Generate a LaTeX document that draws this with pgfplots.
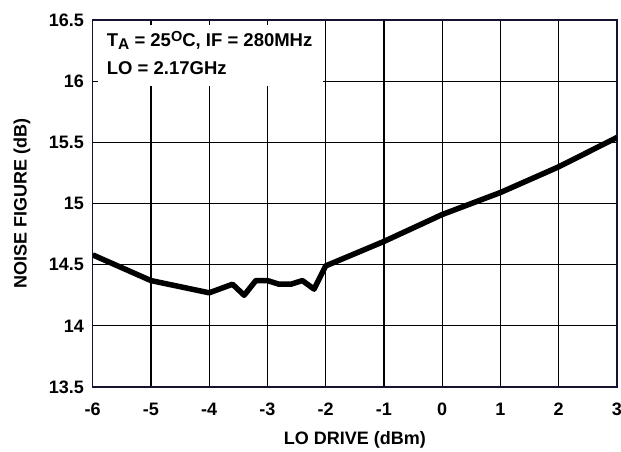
\documentclass[border=0pt]{standalone}
\usepackage{fontspec}
\setmainfont{Liberation Sans}
\usepackage{pgfplots}
\pgfplotsset{compat=1.18}
\definecolor{framecol}{RGB}{20,20,50}
\newcommand{\annfont}{\fontsize{18.5}{22}\selectfont\bfseries}
\pgfplotsset{common/.style={
  scale only axis, width=524.3pt, height=367pt,
  at={(0pt,0pt)}, anchor=south west,
  xmin=-6, xmax=3, ymin=13.5, ymax=16.5,
  xtick={-6,-5,-4,-3,-2,-1,0,1,2,3},
  ytick={13.5,14,14.5,15,15.5,16,16.5},
}}
\begin{document}
\begin{tikzpicture}
% grid layer with white annotation box over it
\begin{axis}[
  common,
  grid=major,
  major grid style={black, line width=1.1pt},
  axis line style={draw=none},
  tick style={draw=none},
  xticklabels={}, yticklabels={},
]
\addplot[fill=white, draw=none] coordinates {
  (-6,15.96) (-2.04,15.96) (-2.04,16.5) (-6,16.5)
};
\end{axis}
% frame, ticks, labels, data
\begin{axis}[
  common,
  axis line style={framecol, line width=1.6pt},
  tick style={black, line width=1.1pt},
  major tick length=5pt,
  tick align=inside,
  /pgf/number format/assume math mode=true,
  tick label style={font=\fontsize{18}{21}\selectfont\bfseries},
  xticklabel style={anchor=north, inner sep=0pt, yshift=-16pt},
  yticklabel style={anchor=east, inner sep=0pt, xshift=-8.7pt},
  xlabel={LO DRIVE (dBm)},
  xlabel style={at={(axis description cs:0.5,-0.12)}, anchor=north, inner sep=0pt, font=\fontsize{18}{21}\selectfont\bfseries},
  ylabel={NOISE FIGURE (dB)},
  ylabel style={at={(axis description cs:-0.1514,0.5)}, anchor=north, inner sep=0pt, font=\fontsize{18}{21}\selectfont\bfseries},
]
\addplot[black, line width=5.5pt, line join=round, mark=none] coordinates {
  (-6,14.58) (-5,14.37) (-4,14.27) (-3.6,14.34) (-3.4,14.25) (-3.2,14.37)
  (-3,14.37) (-2.8,14.34) (-2.6,14.34) (-2.4,14.37) (-2.2,14.30) (-2,14.49)
  (-1,14.69) (0,14.91) (1,15.09) (2,15.30) (3,15.54)
};
\node[anchor=base west, inner sep=0pt, font=\annfont] at (axis cs:-5.76,16.285) {T\raisebox{-3.5pt}{\fontsize{15.5}{18}\selectfont A} = 25\raisebox{4.5pt}{\fontsize{14.5}{17}\selectfont O}C, IF = 280MHz};
\node[anchor=base west, inner sep=0pt, font=\annfont] at (axis cs:-5.76,16.058) {LO = 2.17GHz};
\end{axis}
\pgfresetboundingbox
\useasboundingbox (-92.7pt,-64pt) rectangle (528.3pt,387pt);
\end{tikzpicture}
\end{document}
